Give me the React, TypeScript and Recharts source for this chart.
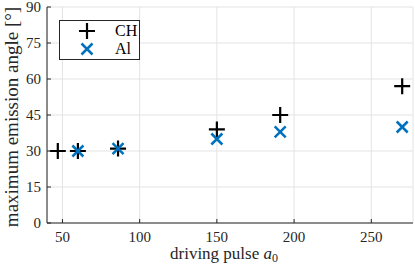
import { ScatterChart, Scatter, XAxis, YAxis, CartesianGrid } from 'recharts';

const chPulse = [47, 60, 86, 150, 191, 270];
const chAngle = [30, 30, 31, 39, 45, 57];
const alPulse = [60, 86, 150, 191, 270];
const alAngle = [30, 31, 35, 38, 40];
const xTicks = [50, 100, 150, 200, 250];
const yTicks = [0, 15, 30, 45, 60, 75, 90];
const seriesNames = ['CH', 'Al'];

const chData = chPulse.map((x, i) => ({ x, y: chAngle[i] }));
const alData = alPulse.map((x, i) => ({ x, y: alAngle[i] }));

const AXIS = '#262626';
const BLUE = '#0072BD';
const FONT = '"Liberation Serif", serif';
const TICK_LEN = 4;

const PlusMark = ({ cx, cy }: any) => (
  <path d={`M${cx - 8},${cy}H${cx + 8}M${cx},${cy - 8}V${cy + 8}`} stroke="#000" strokeWidth={2.2} fill="none" />
);

const CrossMark = ({ cx, cy }: any) => (
  <path d={`M${cx - 5.5},${cy - 5.5}L${cx + 5.5},${cy + 5.5}M${cx - 5.5},${cy + 5.5}L${cx + 5.5},${cy - 5.5}`} stroke={BLUE} strokeWidth={2.5} fill="none" />
);

const BottomTick = ({ x, y, payload }: any) => (
  <g>
    <line x1={x} y1={y} x2={x} y2={y - TICK_LEN} stroke={AXIS} />
    <text x={x} y={y + 19} textAnchor="middle" fontFamily={FONT} fontSize={15} fill="#262626">
      {payload.value}
    </text>
  </g>
);

const LeftTick = ({ x, y, payload }: any) => (
  <g>
    <line x1={x} y1={y} x2={x + TICK_LEN} y2={y} stroke={AXIS} />
    <text x={x - 6} y={y + 5} textAnchor="end" fontFamily={FONT} fontSize={15} fill="#262626">
      {payload.value}
    </text>
  </g>
);

const TopTick = ({ x, y }: any) => <line x1={x} y1={y} x2={x} y2={y + TICK_LEN} stroke={AXIS} />;
const RightTick = ({ x, y }: any) => <line x1={x} y1={y} x2={x - TICK_LEN} y2={y} stroke={AXIS} />;

const XLabel = ({ viewBox }: any) => (
  <text x={viewBox.x + viewBox.width / 2 - 6} y={viewBox.y + 36} textAnchor="middle" fontFamily={FONT} fontSize={17} fill="#262626">
    driving pulse <tspan fontStyle="italic">a</tspan>
    <tspan fontSize={12} dy={3}>0</tspan>
  </text>
);

const YLabel = ({ viewBox }: any) => {
  const cx = viewBox.x + 11;
  const cy = viewBox.y + viewBox.height / 2 + 2;
  return (
    <text x={cx} y={cy} transform={`rotate(-90 ${cx} ${cy})`} textAnchor="middle" dominantBaseline="central" fontFamily={FONT} fontSize={19} fill="#262626">
      maximum emission angle [°]
    </text>
  );
};

function LegendBox() {
  return (
    <div
      style={{
        position: 'absolute',
        left: 59,
        top: 20,
        width: 79,
        height: 38,
        background: '#fff',
        border: `1px solid ${AXIS}`,
        fontFamily: FONT,
        fontSize: 16,
        color: '#000',
      }}
    >
      {seriesNames.map((name, i) => (
        <div key={name} style={{ position: 'absolute', left: 0, top: i * 18, height: 20, width: 79 }}>
          <svg width={50} height={20} style={{ position: 'absolute', left: 0, top: 0 }}>
            {i === 0 ? <PlusMark cx={27} cy={10} /> : <CrossMark cx={27} cy={10} />}
          </svg>
          <span style={{ position: 'absolute', left: 55, top: 1, lineHeight: '18px' }}>{name}</span>
        </div>
      ))}
    </div>
  );
}

export default function App() {
  return (
    <div style={{ position: 'absolute', left: 0, top: 0, width: 415, height: 269, background: '#fff' }}>
      <ScatterChart width={415} height={269} margin={{ top: 7, right: 2, bottom: 0, left: 0 }}>
        <CartesianGrid stroke="#e3e3e3" strokeWidth={1} />
        <XAxis
          type="number"
          dataKey="x"
          domain={[40, 277]}
          ticks={xTicks}
          interval={0}
          height={46}
          tickSize={0}
          tickMargin={0}
          tickLine={false}
          axisLine={{ stroke: AXIS }}
          tick={<BottomTick />}
          label={{ content: <XLabel /> }}
        />
        <XAxis
          xAxisId="top"
          orientation="top"
          type="number"
          dataKey="x"
          domain={[40, 277]}
          ticks={xTicks}
          interval={0}
          height={0}
          tickSize={0}
          tickMargin={0}
          tickLine={false}
          axisLine={{ stroke: AXIS }}
          tick={<TopTick />}
        />
        <YAxis
          type="number"
          dataKey="y"
          domain={[0, 90]}
          ticks={yTicks}
          interval={0}
          width={47}
          tickSize={0}
          tickMargin={0}
          tickLine={false}
          axisLine={{ stroke: AXIS }}
          tick={<LeftTick />}
          label={{ content: <YLabel /> }}
        />
        <YAxis
          yAxisId="right"
          orientation="right"
          type="number"
          dataKey="y"
          domain={[0, 90]}
          ticks={yTicks}
          interval={0}
          width={0}
          tickSize={0}
          tickMargin={0}
          tickLine={false}
          axisLine={{ stroke: AXIS }}
          tick={<RightTick />}
        />
        <Scatter name={seriesNames[0]} data={chData} shape={<PlusMark />} isAnimationActive={false} />
        <Scatter name={seriesNames[1]} data={alData} shape={<CrossMark />} isAnimationActive={false} />
      </ScatterChart>
      <LegendBox />
    </div>
  );
}
